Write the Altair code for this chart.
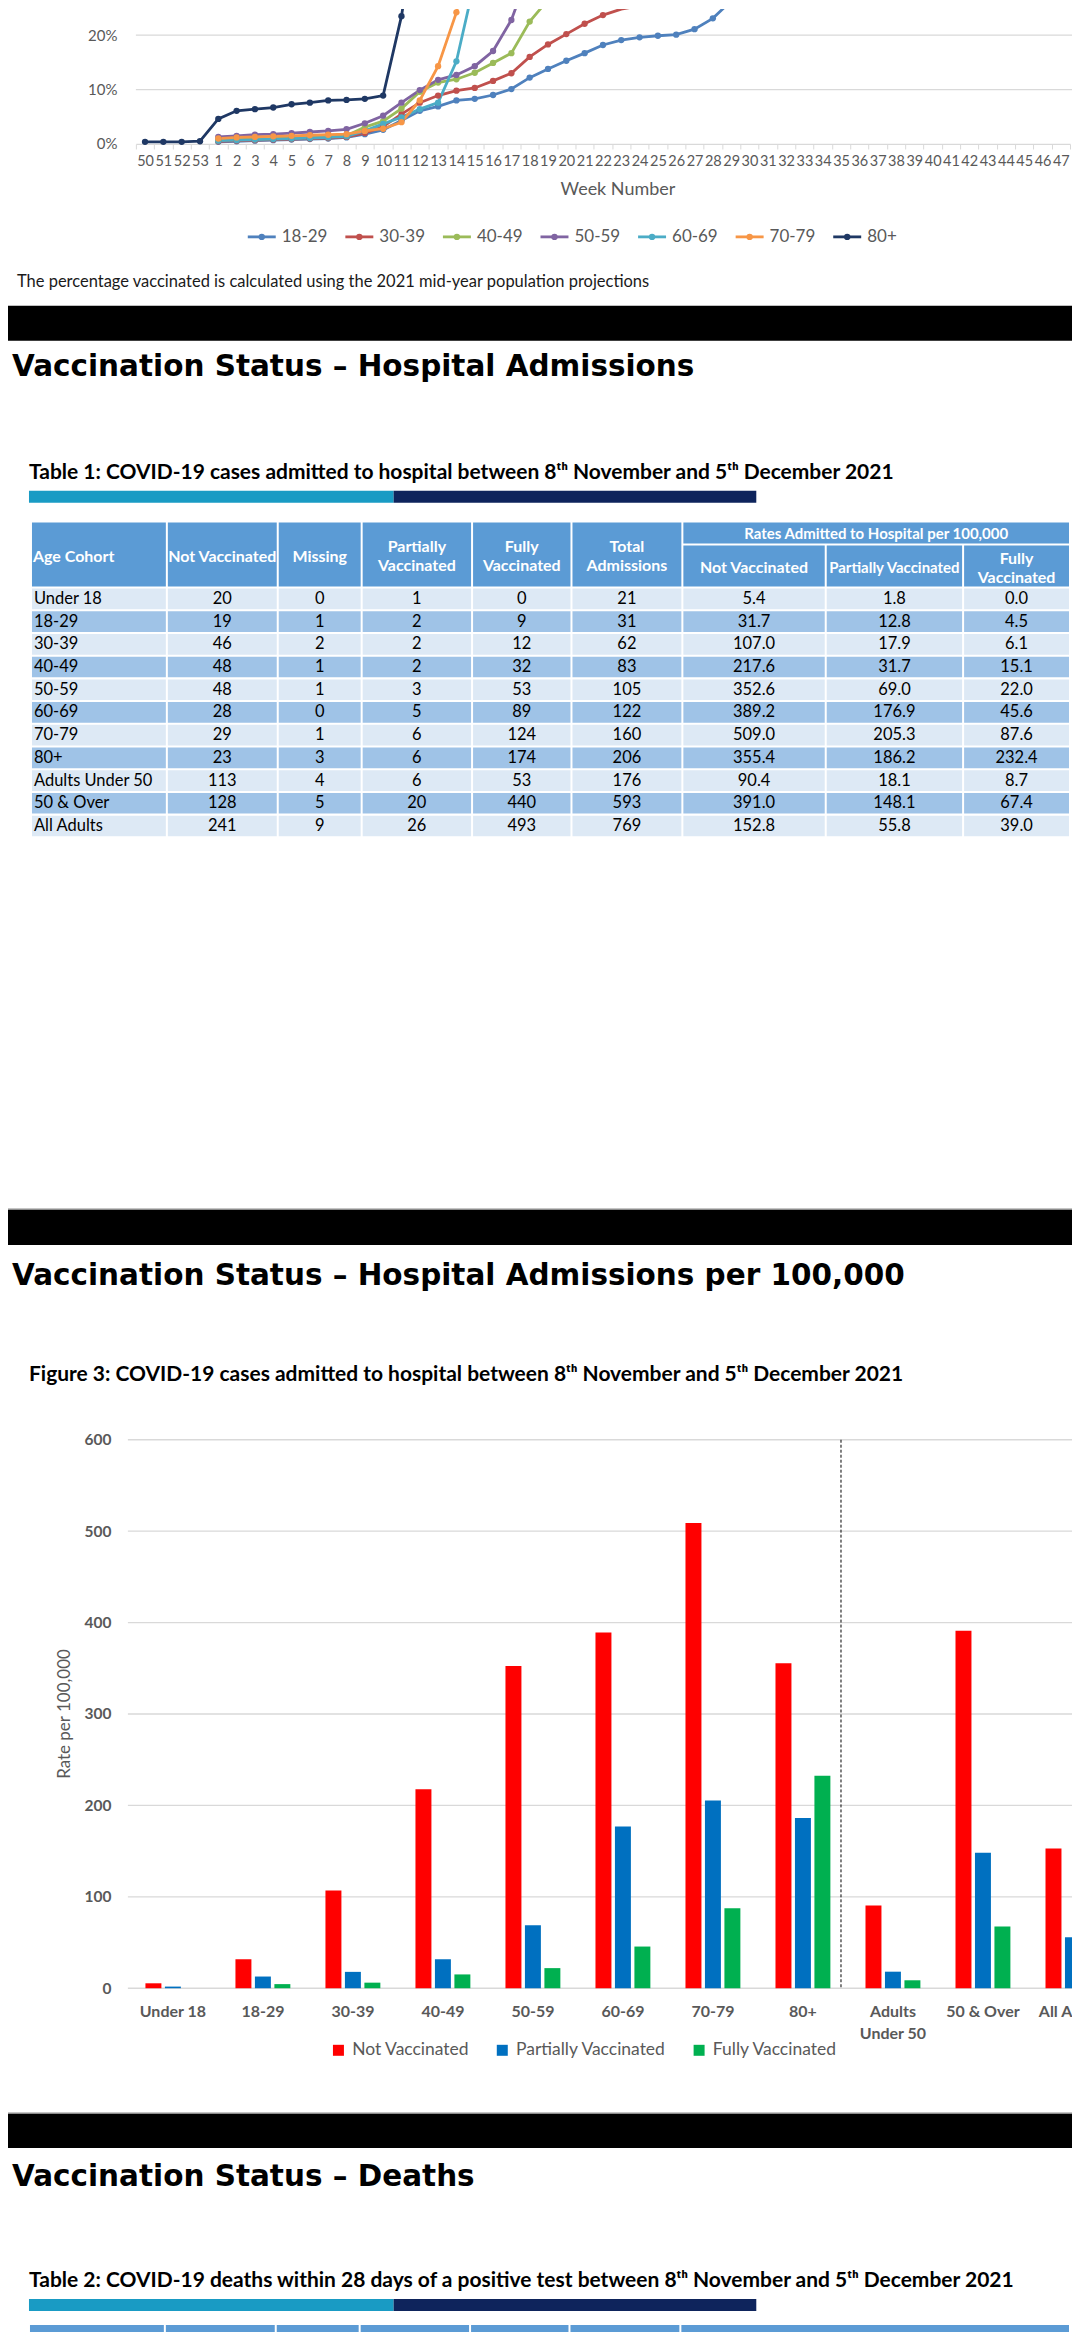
import altair as alt
import pandas as pd

FONT = "Lato"
HFONT = "DejaVu Sans"
GREY = "#595959"
GRID = "#d9d9d9"
W = 1072
XR = 1063  # right end of the line-chart week axis

# ---------------- data: Figure (percentage vaccinated by week) ----------------
weeks = ["50", "51", "52", "53"] + [str(i) for i in range(1, 48)]
series_names = ["18-29", "30-39", "40-49", "50-59", "60-69", "70-79", "80+"]
series_colors = ["#4f81bd", "#c0504d", "#9bbb59", "#8064a2", "#4bacc6", "#f79646", "#1f3864"]
series_start = ["1", "1", "1", "1", "1", "1", "50"]
pct_18_29 = [0.4, 0.5, 0.6, 0.7, 0.8, 0.9, 1.0, 1.2, 1.8, 2.6, 4.3, 6.1, 6.9, 8.0, 8.3, 9.0, 10.1,
             12.2, 13.8, 15.3, 16.7, 18.2, 19.1, 19.6, 19.9, 20.1, 21.1, 23.1, 26.3, 31.0]
pct_30_39 = [0.5, 0.6, 0.7, 0.8, 0.9, 1.0, 1.1, 1.3, 2.0, 3.2, 5.5, 7.6, 8.9, 9.8, 10.3, 11.6, 13.0,
             16.0, 18.3, 20.2, 22.1, 23.7, 24.8, 25.4, 26.1, 28.0]
pct_40_49 = [0.7, 0.8, 0.9, 1.0, 1.1, 1.2, 1.3, 1.5, 3.1, 4.2, 6.5, 9.6, 11.3, 11.9, 13.1, 14.9, 16.7,
             22.5, 26.5, 32.0]
pct_50_59 = [1.3, 1.5, 1.7, 1.8, 2.0, 2.2, 2.4, 2.7, 3.8, 5.2, 7.6, 9.9, 11.8, 12.7, 14.3, 17.1, 22.8, 32.0]
pct_60_69 = [0.6, 0.7, 0.8, 0.9, 1.0, 1.1, 1.2, 1.4, 2.4, 3.7, 4.9, 6.4, 7.6, 15.2, 30.0]
pct_70_79 = [1.0, 1.2, 1.3, 1.4, 1.5, 1.6, 1.7, 1.8, 2.4, 2.8, 4.0, 8.0, 14.3, 24.2, 40.0]
pct_80_plus = [0.4, 0.4, 0.4, 0.5, 4.6, 6.1, 6.4, 6.7, 7.3, 7.6, 8.0, 8.1, 8.3, 8.9, 23.5, 45.0]
series_values = [pct_18_29, pct_30_39, pct_40_49, pct_50_59, pct_60_69, pct_70_79, pct_80_plus]
pct_ticks = [0, 0.1, 0.2]
PCT_TOP = 0.248

# ---------------- data: Table 1 / Figure 3 ----------------
age_cohorts = ["Under 18", "18-29", "30-39", "40-49", "50-59", "60-69", "70-79", "80+",
               "Adults Under 50", "50 & Over", "All Adults"]
not_vacc = [20, 19, 46, 48, 48, 28, 29, 23, 113, 128, 241]
missing = [0, 1, 2, 1, 1, 0, 1, 3, 4, 5, 9]
partially = [1, 2, 2, 2, 3, 5, 6, 6, 6, 20, 26]
fully = [0, 9, 12, 32, 53, 89, 124, 174, 53, 440, 493]
total = [21, 31, 62, 83, 105, 122, 160, 206, 176, 593, 769]
rate_not = [5.4, 31.7, 107.0, 217.6, 352.6, 389.2, 509.0, 355.4, 90.4, 391.0, 152.8]
rate_part = [1.8, 12.8, 17.9, 31.7, 69.0, 176.9, 205.3, 186.2, 18.1, 148.1, 55.8]
rate_full = [0.0, 4.5, 6.1, 15.1, 22.0, 45.6, 87.6, 232.4, 8.7, 67.4, 39.0]
statuses = ["Not Vaccinated", "Partially Vaccinated", "Fully Vaccinated"]
status_colors = ["#ff0000", "#0070c0", "#00b050"]
rate_ticks = [0, 100, 200, 300, 400, 500, 600]

heading1 = "Vaccination Status \u2013 Hospital Admissions"
heading2 = "Vaccination Status \u2013 Hospital Admissions per 100,000"
heading3 = "Vaccination Status \u2013 Deaths"
note_text = "The percentage vaccinated is calculated using the 2021 mid-year population projections"
table1_title = "Table 1: COVID-19 cases admitted to hospital between 8\u1d57\u02b0 November and 5\u1d57\u02b0 December 2021"
fig3_title = "Figure 3: COVID-19 cases admitted to hospital between 8\u1d57\u02b0 November and 5\u1d57\u02b0 December 2021"
table2_title = "Table 2: COVID-19 deaths within 28 days of a positive test between 8\u1d57\u02b0 November and 5\u1d57\u02b0 December 2021"

# ---------------- layout constants ----------------
col_edges = [23, 159, 270, 354, 464.5, 564, 675, 818.5, 956, 1063]
HEAD_BLUE = "#5b9bd5"
ROW_LIGHT = "#dde9f5"
ROW_DARK = "#9fc3e7"
CYAN = "#199bc4"
NAVY = "#0e245c"
HSIZE = 29.5
TSIZE = 21


def one():
    return pd.DataFrame({"v": [0]})


def box(x0, x1, y0, y1, color):
    return alt.Chart(one()).mark_rect(color=color).encode(
        x=alt.value(x0), x2=alt.value(x1), y=alt.value(y0), y2=alt.value(y1))


def label(text, x, y, size, font=FONT, weight="normal", color="black", align="left"):
    return alt.Chart(pd.DataFrame({"t": [text]})).mark_text(
        font=font, fontSize=size, fontWeight=weight, color=color, align=align,
        baseline="alphabetic").encode(x=alt.value(x), y=alt.value(y), text="t:N")


# ================= View A: line chart + legend + note (height 297) =================
recs = []
for name, vals, start in zip(series_names, series_values, series_start):
    s = weeks.index(start)
    for k, v in enumerate(vals):
        recs.append({"week": weeks[s + k], "idx": s + k, "series": name, "pct": v / 100})
line_df = pd.DataFrame(recs)
# markers are only drawn inside the visible window (the lines run on, clipped)
pt_df = line_df[line_df["pct"] <= PCT_TOP - 0.004]

xw = alt.X("week:O", scale=alt.Scale(domain=weeks, type="band", paddingInner=0, paddingOuter=0,
                                     range=[128, XR]),
           axis=alt.Axis(title="Week Number", labelAngle=0, labelFont=FONT, labelFontSize=14.5,
                         labelColor=GREY, labelPadding=6, tickSize=5, tickColor=GRID,
                         domainColor=GRID, domainWidth=1.3, tickBand="extent", labelOverlap=False,
                         offset=-162, grid=False,
                         titleFont=FONT, titleFontSize=18, titleColor=GREY, titleFontWeight="normal",
                         titleX=610, titleY=46, titleBaseline="middle", titleAlign="center"))
yw = alt.Y("pct:Q", scale=alt.Scale(domain=[0, PCT_TOP], nice=False, zero=False, range=[135, 0]),
           axis=alt.Axis(values=pct_ticks, format="%", title=None, labelFont=FONT,
                         labelFontSize=15, labelColor=GREY, labelPadding=19, ticks=False,
                         domain=False, grid=False, offset=-128))
lcol = alt.Color("series:N", scale=alt.Scale(domain=series_names, range=series_colors), legend=None)

gridA = alt.Chart(pd.DataFrame({"pct": pct_ticks[1:]})).mark_rule(color=GRID, strokeWidth=1.3).encode(
    y=yw, x=alt.value(128), x2=alt.value(W))
lines = alt.Chart(line_df).mark_line(strokeWidth=2.8, clip=True).encode(
    x=xw, y=yw, color=lcol, order="idx:Q")
pts = alt.Chart(pt_df).mark_circle(size=40, opacity=1, clip=True).encode(x=xw, y=yw, color=lcol)
mainA = alt.layer(gridA, lines, pts)

leg_df = pd.DataFrame({"series": series_names})
lx = alt.X("series:N", scale=alt.Scale(type="point", domain=series_names, range=[254, 840], padding=0),
           axis=None)
leg_rule = alt.Chart(leg_df).mark_rule(strokeWidth=2.8, xOffset=-14, x2Offset=14).encode(
    x=lx, x2=alt.X2("series:N"), y=alt.value(228), color=lcol)
leg_pt = alt.Chart(leg_df).mark_circle(size=40, opacity=1).encode(x=lx, y=alt.value(228), color=lcol)
leg_txt = alt.Chart(leg_df).mark_text(align="left", baseline="middle", dx=20, font=FONT,
                                      fontSize=17, color=GREY).encode(
    x=lx, y=alt.value(228), text="series:N")
legA = alt.layer(leg_rule, leg_pt, leg_txt, label(note_text, 9, 278, 16.5, color="#1a1a1a"))

viewA = alt.layer(mainA, legA).resolve_scale(x="independent").properties(width=W, height=297)

# ================= View B: black bar, heading, table title (height 217) =================
viewB = alt.layer(
    box(0, W, 0, 35, "black"),
    label(heading1, 4, 70, HSIZE, font=HFONT, weight="bold"),
    label(table1_title, 21, 173, TSIZE, weight="bold"),
    box(21, 386, 185, 197, CYAN),
    box(386, 749, 185, 197, NAVY),
).properties(width=W, height=217)

# ================= Table 1 header (66) and body (248) =================
xs = alt.Scale(domain=[0, W], nice=False, zero=False)
hs = alt.Scale(domain=[0, 66], nice=False, zero=False, reverse=True)

head_cells = []
for j in range(6):
    head_cells.append({"x0": col_edges[j] + 1, "x1": col_edges[j + 1] - 1, "y0": 0, "y1": 64})
head_cells.append({"x0": col_edges[6] + 1, "x1": col_edges[9] - 1, "y0": 0, "y1": 21})
for j in range(6, 9):
    head_cells.append({"x0": col_edges[j] + 1, "x1": col_edges[j + 1] - 1, "y0": 23, "y1": 64})
head_cells = pd.DataFrame(head_cells)


def cc(j):
    return (col_edges[j] + col_edges[j + 1]) / 2


HS = 16
head_text = pd.DataFrame([
    {"t": "Age Cohort", "x": col_edges[0] + 2, "y": 34, "a": "left", "s": HS},
    {"t": "Not Vaccinated", "x": cc(1), "y": 34, "a": "center", "s": HS},
    {"t": "Missing", "x": cc(2), "y": 34, "a": "center", "s": HS},
    {"t": "Partially", "x": cc(3), "y": 24, "a": "center", "s": HS},
    {"t": "Vaccinated", "x": cc(3), "y": 43, "a": "center", "s": HS},
    {"t": "Fully", "x": cc(4), "y": 24, "a": "center", "s": HS},
    {"t": "Vaccinated", "x": cc(4), "y": 43, "a": "center", "s": HS},
    {"t": "Total", "x": cc(5), "y": 24, "a": "center", "s": HS},
    {"t": "Admissions", "x": cc(5), "y": 43, "a": "center", "s": HS},
    {"t": "Rates Admitted to Hospital per 100,000", "x": (col_edges[6] + col_edges[9]) / 2, "y": 11,
     "a": "center", "s": 15},
    {"t": "Not Vaccinated", "x": cc(6), "y": 45, "a": "center", "s": HS},
    {"t": "Partially Vaccinated", "x": cc(7), "y": 45, "a": "center", "s": 15},
    {"t": "Fully", "x": cc(8), "y": 36, "a": "center", "s": HS},
    {"t": "Vaccinated", "x": cc(8), "y": 55, "a": "center", "s": HS},
])

head_rect = alt.Chart(head_cells).mark_rect(color=HEAD_BLUE).encode(
    x=alt.X("x0:Q", scale=xs, axis=None), x2="x1:Q",
    y=alt.Y("y0:Q", scale=hs, axis=None), y2="y1:Q")
head_layers = [head_rect]
for a in ["left", "center"]:
    for s in sorted(head_text["s"].unique()):
        sub = head_text[(head_text["a"] == a) & (head_text["s"] == s)]
        if len(sub) == 0:
            continue
        head_layers.append(alt.Chart(sub).mark_text(
            font=FONT, fontWeight="bold", fontSize=float(s), color="white", align=a,
            baseline="middle").encode(
            x=alt.X("x:Q", scale=xs, axis=None), y=alt.Y("y:Q", scale=hs, axis=None), text="t:N"))
viewHead = alt.layer(*head_layers).properties(width=W, height=66)

body_cols = [age_cohorts, not_vacc, missing, partially, fully, total, rate_not, rate_part, rate_full]
body = []
for i, cohort in enumerate(age_cohorts):
    for j in range(9):
        v = body_cols[j][i]
        txt = f"{v:.1f}" if j >= 6 else str(v)
        body.append({"row": cohort, "x0": col_edges[j] + 1, "x1": col_edges[j + 1] - 1,
                     "xt": col_edges[j] + 3 if j == 0 else cc(j), "first": j == 0,
                     "t": txt, "fill": ROW_LIGHT if i % 2 == 0 else ROW_DARK})
body = pd.DataFrame(body)
ys = alt.Y("row:N", sort=age_cohorts,
           scale=alt.Scale(domain=age_cohorts, paddingInner=0.09, paddingOuter=0), axis=None)
body_rect = alt.Chart(body).mark_rect().encode(
    x=alt.X("x0:Q", scale=xs, axis=None), x2="x1:Q", y=ys, color=alt.Color("fill:N", scale=None))
body_first = alt.Chart(body[body["first"]]).mark_text(
    font=FONT, fontSize=16.5, color="black", align="left", baseline="middle").encode(
    x=alt.X("xt:Q", scale=xs, axis=None), y=ys, text="t:N")
body_rest = alt.Chart(body[~body["first"]]).mark_text(
    font=FONT, fontSize=16.5, color="black", align="center", baseline="middle").encode(
    x=alt.X("xt:Q", scale=xs, axis=None), y=ys, text="t:N")
viewBody = alt.layer(body_rect, body_first, body_rest).properties(width=W, height=248)

# ================= View D: black bar, heading, figure title (604) =================
viewD = alt.layer(
    box(0, W, 372.5, 374, "#8c8c8c"),
    box(0, W, 374, 409, "black"),
    label(heading2, 4, 449, HSIZE, font=HFONT, weight="bold"),
    label(fig3_title, 21, 545, TSIZE, weight="bold"),
).properties(width=W, height=604)

# ================= View E: bar chart + deaths section =================
E_H = 900
bar_recs = []
for i, cat in enumerate(age_cohorts):
    for st, arr in zip(statuses, [rate_not, rate_part, rate_full]):
        bar_recs.append({"cohort": cat, "status": st, "rate": arr[i]})
bar_df = pd.DataFrame(bar_recs)

lab_rows = []
for c in age_cohorts:
    if len(c) > 10 and " " in c:
        first, second = c.split(" ", 1)
    else:
        first, second = c, ""
    lab_rows.append({"cohort": c, "l1": first, "l2": second})
lab_df = pd.DataFrame(lab_rows)

xb_scale = alt.Scale(domain=age_cohorts, paddingInner=0.39, paddingOuter=0.195, range=[120, 1111])
xb = alt.X("cohort:N", sort=age_cohorts, scale=xb_scale, axis=None)
yb = alt.Y("rate:Q", scale=alt.Scale(domain=[0, 600], nice=False, range=[549, 0]),
           axis=alt.Axis(values=rate_ticks, title="Rate per 100,000", offset=-120, grid=False,
                         labelFont=FONT, labelFontSize=15.5, labelFontWeight="bold", labelColor=GREY,
                         labelPadding=17, ticks=False, domain=False,
                         titleFont=FONT, titleFontSize=17, titleFontWeight="normal", titleColor=GREY,
                         titleX=-63, titleY=274, titleAlign="center", titleBaseline="middle",
                         titleAngle=270))
gridE = alt.Chart(pd.DataFrame({"rate": rate_ticks})).mark_rule(color=GRID, strokeWidth=1.3).encode(
    y=yb, x=alt.value(120), x2=alt.value(W))
bars = alt.Chart(bar_df).mark_bar(clip=True).encode(
    x=xb, y=yb,
    xOffset=alt.XOffset("status:N", sort=statuses,
                        scale=alt.Scale(domain=statuses, paddingInner=0.18)),
    color=alt.Color("status:N", scale=alt.Scale(domain=statuses, range=status_colors),
                    legend=alt.Legend(orient="none", legendX=322, legendY=602, direction="horizontal",
                                      title=None, symbolType="square", symbolSize=121,
                                      symbolStrokeWidth=0, labelFont=FONT, labelFontSize=17.5,
                                      labelColor=GREY, columnPadding=24, labelOffset=5, padding=0)))
divider = alt.Chart(pd.DataFrame({"cohort": ["Adults Under 50"]})).mark_rule(
    strokeDash=[3, 2], color="black", strokeWidth=1, xOffset=-52).encode(
    x=xb, y=alt.value(0), y2=alt.value(549))
xlab1 = alt.Chart(lab_df).mark_text(font=FONT, fontSize=16, fontWeight="bold", color=GREY,
                                    baseline="middle", clip=True).encode(
    x=xb, y=alt.value(573), text="l1:N")
xlab2 = alt.Chart(lab_df[lab_df["l2"] != ""]).mark_text(font=FONT, fontSize=16, fontWeight="bold",
                                                        color=GREY, baseline="middle", clip=True).encode(
    x=xb, y=alt.value(595), text="l2:N")

deaths_layers = [
    box(0, W, 673.5, 675, "#8c8c8c"),
    box(0, W, 675, 709, "black"),
    label(heading3, 4, 747, HSIZE, font=HFONT, weight="bold"),
    label(table2_title, 21, 848, TSIZE, weight="bold"),
    box(21, 386, 860, 872, CYAN),
    box(386, 749, 860, 872, NAVY),
]
t2_edges = [e - 2 for e in col_edges]
for j in range(6):
    deaths_layers.append(box(t2_edges[j] + 1, t2_edges[j + 1] - 1, 886, E_H, HEAD_BLUE))
deaths_layers.append(box(t2_edges[6] + 1, t2_edges[9] + 1, 886, E_H, HEAD_BLUE))

viewE = alt.layer(gridE, bars, divider, xlab1, xlab2, *deaths_layers).properties(width=W, height=E_H)

chart = alt.vconcat(viewA, viewB, viewHead, viewBody, viewD, viewE, spacing=0, bounds="flush").resolve_scale(
    color="independent", x="independent", y="independent")
# the page itself is 1080 wide with an 8px body margin: keep the drawing inside 1064 x 2324
chart = chart.properties(padding={"top": 0, "left": 0, "right": -8, "bottom": -8},
                         background="white").configure(font=FONT).configure_view(stroke=None)

chart.save("out.html", embed_options={"renderer": "svg", "actions": False})
